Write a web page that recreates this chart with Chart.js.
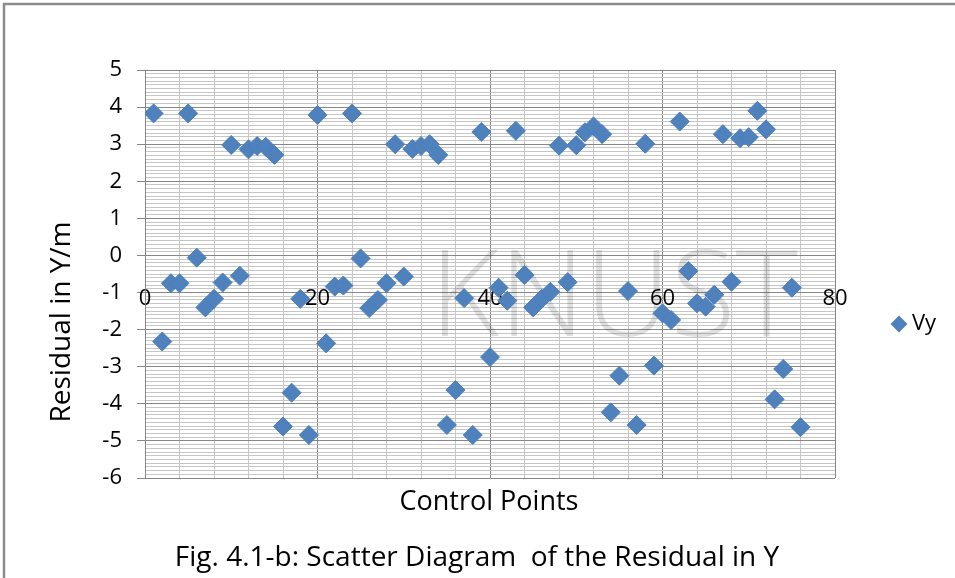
<!DOCTYPE html>
<html>
<head>
<meta charset="utf-8">
<script src="https://cdn.jsdelivr.net/npm/chart.js@4.4.0/dist/chart.umd.min.js"></script>
<style>
  html, body { margin: 0; padding: 0; background: #fff; }
</style>
</head>
<body>
<canvas id="chart" width="955" height="578"></canvas>
<script>
// control point numbers and residuals in Y (m)
const controlPoints = [
  1, 2, 3, 4, 5, 6, 7, 8, 9, 10, 11, 12, 13, 14, 15, 16, 17, 18, 19, 20,
  21, 22, 23, 24, 25, 26, 27, 28, 29, 30, 31, 32, 33, 34, 35, 36, 37, 38, 39, 40,
  41, 42, 43, 44, 45, 46, 47, 48, 49, 50, 51, 52, 53, 54, 55, 56, 57, 58, 59, 60,
  61, 62, 63, 64, 65, 66, 67, 68, 69, 70, 71, 72, 73, 74, 75, 76
];
const vy = [
  3.83, -2.32, -0.75, -0.75, 3.83, -0.06, -1.40, -1.17, -0.73, 2.98,
  -0.55, 2.86, 2.95, 2.93, 2.71, -4.61, -3.70, -1.17, -4.84, 3.79,
  -2.37, -0.84, -0.81, 3.83, -0.08, -1.42, -1.20, -0.75, 3.00, -0.57,
  2.87, 2.95, 3.00, 2.71, -4.57, -3.63, -1.15, -4.84, 3.33, -2.74,
  -0.87, -1.22, 3.36, -0.53, -1.40, -1.17, -0.98, 2.96, -0.72, 2.97,
  3.32, 3.48, 3.27, -4.23, -3.24, -0.96, -4.57, 3.01, -2.97, -1.56,
  -1.74, 3.61, -0.42, -1.29, -1.38, -1.06, 3.27, -0.71, 3.16, 3.19,
  3.90, 3.40, -3.88, -3.06, -0.87, -4.63
];
const xTickLabels = [0, 20, 40, 60, 80];
const yTickLabels = [5, 4, 3, 2, 1, 0, -1, -2, -3, -4, -5, -6];

const FONT = 'Open Sans';
const MAJOR = '#878787';
const MINOR = '#c6c6c6';

const extras = {
  id: 'extras',
  beforeDraw(chart) {
    const c = chart.ctx;
    c.save();
    c.fillStyle = '#fff';
    c.fillRect(0, 0, chart.width, chart.height);
    // outer frame (left and top only, the rest is cropped off)
    c.strokeStyle = '#8c8c8c';
    c.lineWidth = 2.5;
    c.beginPath();
    c.moveTo(4, chart.height);
    c.lineTo(4, 4);
    c.lineTo(chart.width, 4);
    c.stroke();
    c.restore();
  },
  beforeDatasetsDraw(chart) {
    // faint watermark
    const c = chart.ctx;
    c.save();
    c.fillStyle = 'rgba(0,0,0,0.12)';
    c.font = '300 119px ' + FONT;
    c.textBaseline = 'alphabetic';
    c.textAlign = 'left';
    c.fillText('KNUST', 430, 336);
    c.restore();
  },
  afterDraw(chart) {
    const c = chart.ctx;
    c.save();
    c.fillStyle = '#000';
    c.textAlign = 'center';
    c.textBaseline = 'middle';
    c.font = '27px ' + FONT;
    c.fillText('Control Points', 489, 502);
    c.font = '28px ' + FONT;
    c.fillText('Fig. 4.1-b: Scatter Diagram  of the Residual in Y', 477, 558);
    c.translate(62, 322);
    c.rotate(-Math.PI / 2);
    c.fillText('Residual in Y/m', 0, 0);
    c.restore();

    // legend
    c.save();
    c.fillStyle = '#4F81BD';
    c.beginPath();
    c.moveTo(899 - 8.5, 324);
    c.lineTo(899, 324 - 8.5);
    c.lineTo(899 + 8.5, 324);
    c.lineTo(899, 324 + 8.5);
    c.closePath();
    c.fill();
    c.fillStyle = '#000';
    c.font = '22px ' + FONT;
    c.textAlign = 'left';
    c.textBaseline = 'middle';
    c.fillText(chart.data.datasets[0].label, 912, 324);
    c.restore();
  }
};

const isMajorY = v => yTickLabels.includes(Math.round(v * 10) / 10);

new Chart(document.getElementById('chart'), {
  type: 'scatter',
  data: {
    datasets: [{
      label: 'Vy',
      data: controlPoints.map((x, i) => ({ x: x, y: vy[i] })),
      pointStyle: 'rectRot',
      pointRadius: 9.5,
      backgroundColor: '#4F81BD',
      borderColor: '#4A7EBB',
      borderWidth: 1
    }]
  },
  options: {
    responsive: false,
    animation: false,
    devicePixelRatio: 1,
    layout: { padding: { left: 0, top: 70, right: 120, bottom: 100 } },
    plugins: {
      legend: { display: false },
      tooltip: { enabled: false }
    },
    scales: {
      x: {
        type: 'linear',
        position: { y: 0 },
        min: 0,
        max: 80,
        border: { display: false },
        grid: {
          color: c => (c.tick && c.tick.value % 20 === 0) ? MAJOR : MINOR,
          drawTicks: false
        },
        ticks: {
          stepSize: 4,
          autoSkip: false,
          maxRotation: 0,
          padding: 30,
          color: '#000',
          font: { family: FONT, size: 22 },
          callback: v => xTickLabels.includes(v) ? String(v) : ''
        }
      },
      y: {
        min: -6,
        max: 5,
        afterFit(s) { s.width = 145; },
        border: { display: true, color: MAJOR },
        grid: {
          color: c => (c.tick && isMajorY(c.tick.value)) ? MAJOR : MINOR,
          tickColor: c => (c.tick && isMajorY(c.tick.value)) ? MAJOR : 'rgba(0,0,0,0)',
          tickLength: 8
        },
        ticks: {
          stepSize: 0.1,
          autoSkip: false,
          maxTicksLimit: 1000,
          padding: 15,
          color: '#000',
          font: { family: FONT, size: 22 },
          callback: v => isMajorY(v) ? String(Math.round(v)) : ''
        }
      }
    }
  },
  plugins: [extras]
});
</script>
</body>
</html>
